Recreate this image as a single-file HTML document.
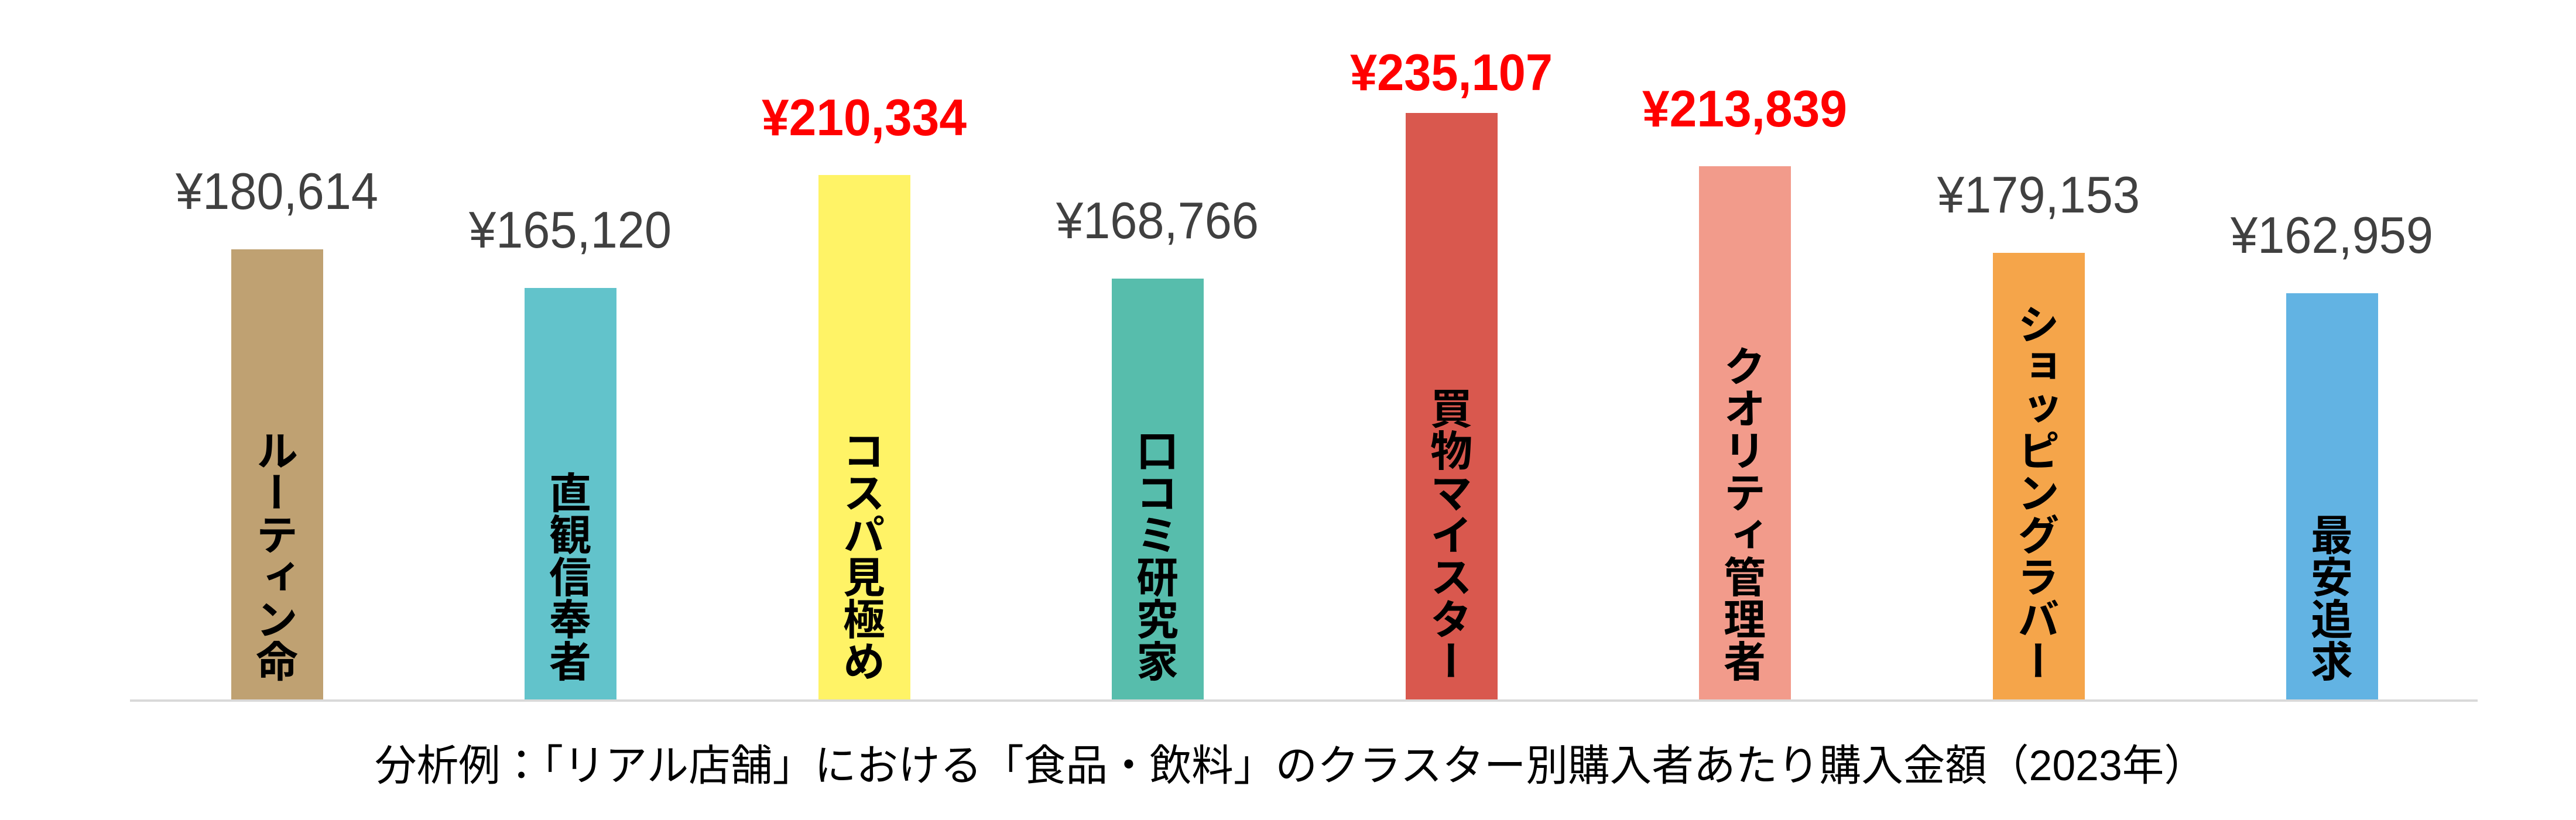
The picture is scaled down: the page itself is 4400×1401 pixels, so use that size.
<!DOCTYPE html>
<html><head><meta charset="utf-8"><style>
html,body{margin:0;padding:0;background:#fff;}
svg{display:block;}
.v{font-family:"Liberation Sans","Noto Sans CJK JP",sans-serif;font-size:88px;fill:#404040;text-anchor:middle;}
.r{font-family:"Liberation Sans","Noto Sans CJK JP",sans-serif;font-size:88px;font-weight:bold;fill:#ff0000;text-anchor:middle;}
.in{font-family:"Noto Sans CJK JP",sans-serif;font-size:72px;font-weight:bold;fill:#000;writing-mode:vertical-rl;text-anchor:end;}
.t{font-family:"Liberation Sans","Noto Sans CJK JP",sans-serif;font-size:73px;fill:#000;text-anchor:middle;}
</style></head><body>
<svg width="4400" height="1401" viewBox="0 0 4400 1401" xmlns="http://www.w3.org/2000/svg">
<rect width="4400" height="1401" fill="#fff"/>
<rect x="395" y="426" width="157" height="771" fill="#BFA172"/>
<rect x="896" y="492" width="157" height="705" fill="#62C3CB"/>
<rect x="1398" y="299" width="157" height="898" fill="#FFF366"/>
<rect x="1899" y="476" width="157" height="721" fill="#57BDAC"/>
<rect x="2401" y="193" width="157" height="1004" fill="#D9584E"/>
<rect x="2902" y="284" width="157" height="913" fill="#F29B8B"/>
<rect x="3404" y="432" width="157" height="765" fill="#F5A54A"/>
<rect x="3905" y="501" width="157" height="696" fill="#62B3E3"/>
<rect x="222" y="1195" width="4010" height="4" fill="#d9d9d9"/>
<text class="v" x="473" y="357" textLength="346" lengthAdjust="spacingAndGlyphs">¥180,614</text>
<text class="v" x="974" y="423" textLength="346" lengthAdjust="spacingAndGlyphs">¥165,120</text>
<text class="r" x="1476" y="231" textLength="350" lengthAdjust="spacingAndGlyphs">¥210,334</text>
<text class="v" x="1977" y="407" textLength="346" lengthAdjust="spacingAndGlyphs">¥168,766</text>
<text class="r" x="2479" y="154" textLength="346" lengthAdjust="spacingAndGlyphs">¥235,107</text>
<text class="r" x="2980" y="216" textLength="350" lengthAdjust="spacingAndGlyphs">¥213,839</text>
<text class="v" x="3482" y="363" textLength="346" lengthAdjust="spacingAndGlyphs">¥179,153</text>
<text class="v" x="3983" y="432" textLength="346" lengthAdjust="spacingAndGlyphs">¥162,959</text>
<text class="in" x="473" y="1165">ルーティン命</text>
<text class="in" x="974" y="1165">直観信奉者</text>
<text class="in" x="1476" y="1165">コスパ見極め</text>
<text class="in" x="1977" y="1165">口コミ研究家</text>
<text class="in" x="2479" y="1165">買物マイスター</text>
<text class="in" x="2980" y="1165">クオリティ管理者</text>
<text class="in" x="3482" y="1165">ショッピングラバー</text>
<text class="in" x="3983" y="1165">最安追求</text>
<text class="t" x="2204" y="1333" textLength="3128" lengthAdjust="spacingAndGlyphs">分析例：「リアル店舗」における「食品・飲料」のクラスター別購入者あたり購入金額（2023年）</text>
</svg>
</body></html>
